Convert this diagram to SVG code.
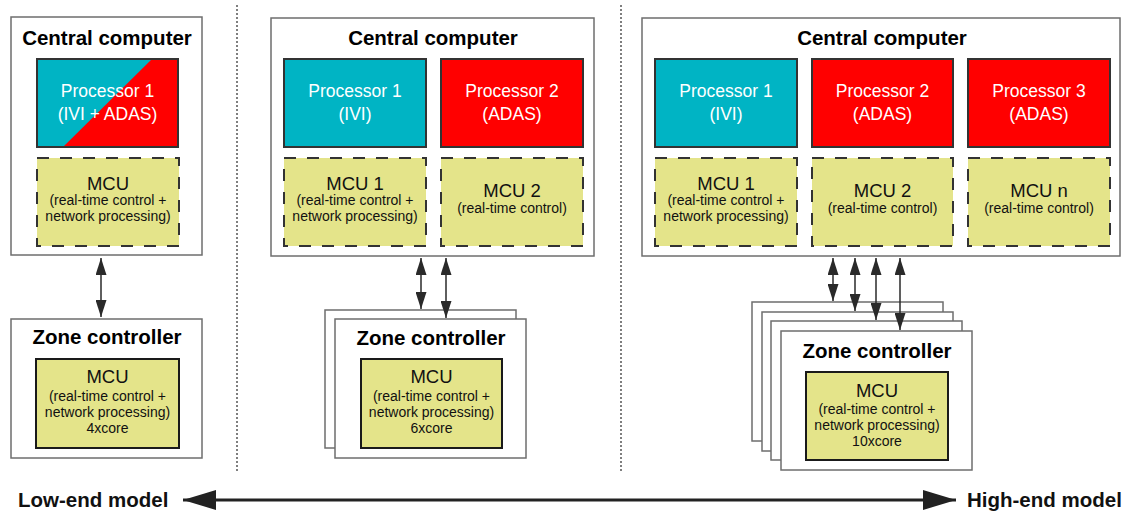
<svg xmlns="http://www.w3.org/2000/svg" width="1124" height="516" viewBox="0 0 1124 516">
<defs>
<style>
.box{fill:#fff;stroke:#6e6e6e;stroke-width:1.5}
.cyan{fill:#00B4C4;stroke:#333;stroke-width:2}
.red{fill:#FF0000;stroke:#333;stroke-width:2}
.mcud{fill:#E4E48A;stroke:#333;stroke-width:2;stroke-dasharray:12 11}
.mcus{fill:#E4E48A;stroke:#1a1a1a;stroke-width:2}
.title{font-family:"Liberation Sans",Arial,sans-serif;font-weight:bold;font-size:20.5px;fill:#000;text-anchor:middle}
.ptxt{font-family:"Liberation Sans",Arial,sans-serif;font-size:17.5px;fill:#fff;text-anchor:middle}
.mtxt{font-family:"Liberation Sans",Arial,sans-serif;font-size:18.5px;fill:#111;text-anchor:middle}
.stxt{font-family:"Liberation Sans",Arial,sans-serif;font-size:14px;fill:#111;text-anchor:middle}
.conn{stroke:#2a2a2a;stroke-width:1.5;fill:none}
.sep{stroke:#555;stroke-width:1.5;stroke-dasharray:2 2}
.scale{font-family:"Liberation Sans",Arial,sans-serif;font-weight:bold;font-size:20.5px;fill:#111}
</style>
<marker id="ah" viewBox="0 0 17 11" refX="17" refY="5.5" markerWidth="17" markerHeight="11" markerUnits="userSpaceOnUse" orient="auto-start-reverse">
<path d="M0,0 L17,5.5 L0,11 Z" fill="#2a2a2a"/>
</marker>
<marker id="bh" viewBox="0 0 33 20" refX="33" refY="10" markerWidth="33" markerHeight="20" markerUnits="userSpaceOnUse" orient="auto-start-reverse">
<path d="M0,0 L33,10 L0,20 Z" fill="#222"/>
</marker>
</defs>
<rect width="1124" height="516" fill="#fff"/>

<g id="separators">
<line class="sep" x1="237" y1="5" x2="237" y2="472"/>
<line class="sep" x1="621" y1="5" x2="621" y2="472"/>
</g>

<!-- Low-end -->
<g id="cc-low">
<rect class="box" x="11" y="17" width="191" height="238"/>
<text class="title" x="107" y="45">Central computer</text>
</g>
<g id="proc-low">
<rect x="37" y="59" width="141" height="88" fill="#FF0000"/>
<polygon points="37,59 152,59 63,147 37,147" fill="#00B4C4"/>
<rect x="37" y="59" width="141" height="88" fill="none" stroke="#333" stroke-width="2"/>
<text class="ptxt" x="107.5" y="97">Processor 1</text>
<text class="ptxt" x="107.5" y="120">(IVI + ADAS)</text>
</g>
<g id="mcu-low">
<rect class="mcud" x="37" y="158" width="142" height="88"/>
<text class="mtxt" x="108" y="190">MCU</text>
<text class="stxt" x="108" y="205">(real-time control +</text>
<text class="stxt" x="108" y="221">network processing)</text>
</g>
<g id="zc-low">
<rect class="box" x="11" y="319" width="191" height="139"/>
<text class="title" x="107" y="344">Zone controller</text>
<rect class="mcus" x="36" y="359" width="143" height="89"/>
<text class="mtxt" x="107.5" y="383">MCU</text>
<text class="stxt" x="107.5" y="401">(real-time control +</text>
<text class="stxt" x="107.5" y="417">network processing)</text>
<text class="stxt" x="107.5" y="433">4xcore</text>
</g>

<!-- Mid -->
<g id="cc-mid">
<rect class="box" x="271" y="18" width="323" height="238"/>
<text class="title" x="433" y="45">Central computer</text>
</g>
<g id="proc1-mid">
<rect class="cyan" x="284" y="59" width="142" height="88"/>
<text class="ptxt" x="355" y="97">Processor 1</text>
<text class="ptxt" x="355" y="120">(IVI)</text>
</g>
<g id="proc2-mid">
<rect class="red" x="441" y="59" width="142" height="88"/>
<text class="ptxt" x="512" y="97">Processor 2</text>
<text class="ptxt" x="512" y="120">(ADAS)</text>
</g>
<g id="mcu1-mid">
<rect class="mcud" x="284" y="158" width="142" height="88"/>
<text class="mtxt" x="355" y="190">MCU 1</text>
<text class="stxt" x="355" y="205">(real-time control +</text>
<text class="stxt" x="355" y="221">network processing)</text>
</g>
<g id="mcu2-mid">
<rect class="mcud" x="441" y="158" width="142" height="88"/>
<text class="mtxt" x="512" y="197">MCU 2</text>
<text class="stxt" x="512" y="213">(real-time control)</text>
</g>
<g id="zc-mid-back">
<rect class="box" x="325" y="310" width="191" height="138"/>
</g>
<g id="zc-mid">
<rect class="box" x="335" y="319" width="191" height="139"/>
<text class="title" x="431" y="345">Zone controller</text>
<rect class="mcus" x="361" y="359" width="141" height="89"/>
<text class="mtxt" x="431.5" y="383">MCU</text>
<text class="stxt" x="431.5" y="401">(real-time control +</text>
<text class="stxt" x="431.5" y="417">network processing)</text>
<text class="stxt" x="431.5" y="433">6xcore</text>
</g>

<!-- High -->
<g id="cc-high">
<rect class="box" x="642" y="18" width="478" height="238"/>
<text class="title" x="882" y="45">Central computer</text>
</g>
<g id="proc1-high">
<rect class="cyan" x="655" y="59" width="142" height="88"/>
<text class="ptxt" x="726" y="97">Processor 1</text>
<text class="ptxt" x="726" y="120">(IVI)</text>
</g>
<g id="proc2-high">
<rect class="red" x="812" y="59" width="141" height="88"/>
<text class="ptxt" x="882.5" y="97">Processor 2</text>
<text class="ptxt" x="882.5" y="120">(ADAS)</text>
</g>
<g id="proc3-high">
<rect class="red" x="968" y="59" width="142" height="88"/>
<text class="ptxt" x="1039" y="97">Processor 3</text>
<text class="ptxt" x="1039" y="120">(ADAS)</text>
</g>
<g id="mcu1-high">
<rect class="mcud" x="655" y="158" width="142" height="88"/>
<text class="mtxt" x="726" y="190">MCU 1</text>
<text class="stxt" x="726" y="205">(real-time control +</text>
<text class="stxt" x="726" y="221">network processing)</text>
</g>
<g id="mcu2-high">
<rect class="mcud" x="812" y="158" width="141" height="88"/>
<text class="mtxt" x="882.5" y="197">MCU 2</text>
<text class="stxt" x="882.5" y="213">(real-time control)</text>
</g>
<g id="mcun-high">
<rect class="mcud" x="968" y="158" width="142" height="88"/>
<text class="mtxt" x="1039" y="197">MCU n</text>
<text class="stxt" x="1039" y="213">(real-time control)</text>
</g>
<g id="zc-high-back3"><rect class="box" x="752" y="302" width="191" height="139"/></g>
<g id="zc-high-back2"><rect class="box" x="762" y="312" width="191" height="139"/></g>
<g id="zc-high-back1"><rect class="box" x="771" y="321" width="191" height="139"/></g>
<g id="zc-high">
<rect class="box" x="781" y="331" width="191" height="139"/>
<text class="title" x="877" y="358">Zone controller</text>
<rect class="mcus" x="806" y="372" width="142" height="88"/>
<text class="mtxt" x="877" y="397">MCU</text>
<text class="stxt" x="877" y="414">(real-time control +</text>
<text class="stxt" x="877" y="430">network processing)</text>
<text class="stxt" x="877" y="446">10xcore</text>
</g>

<g id="connectors">
<line class="conn" x1="101" y1="258" x2="101" y2="317" marker-start="url(#ah)" marker-end="url(#ah)"/>
<line class="conn" x1="421" y1="258" x2="421" y2="309" marker-start="url(#ah)" marker-end="url(#ah)"/>
<line class="conn" x1="446" y1="258" x2="446" y2="318" marker-start="url(#ah)" marker-end="url(#ah)"/>
<line class="conn" x1="833" y1="258" x2="833" y2="301" marker-start="url(#ah)" marker-end="url(#ah)"/>
<line class="conn" x1="855" y1="258" x2="855" y2="311" marker-start="url(#ah)" marker-end="url(#ah)"/>
<line class="conn" x1="876" y1="258" x2="876" y2="320" marker-start="url(#ah)" marker-end="url(#ah)"/>
<line class="conn" x1="900" y1="258" x2="900" y2="330" marker-start="url(#ah)" marker-end="url(#ah)"/>
<line x1="183" y1="500" x2="956" y2="500" stroke="#222" stroke-width="3" marker-start="url(#bh)" marker-end="url(#bh)"/>
</g>

<g id="scale-labels">
<text class="scale" x="18" y="507">Low-end model</text>
<text class="scale" x="967" y="507">High-end model</text>
</g>
</svg>
